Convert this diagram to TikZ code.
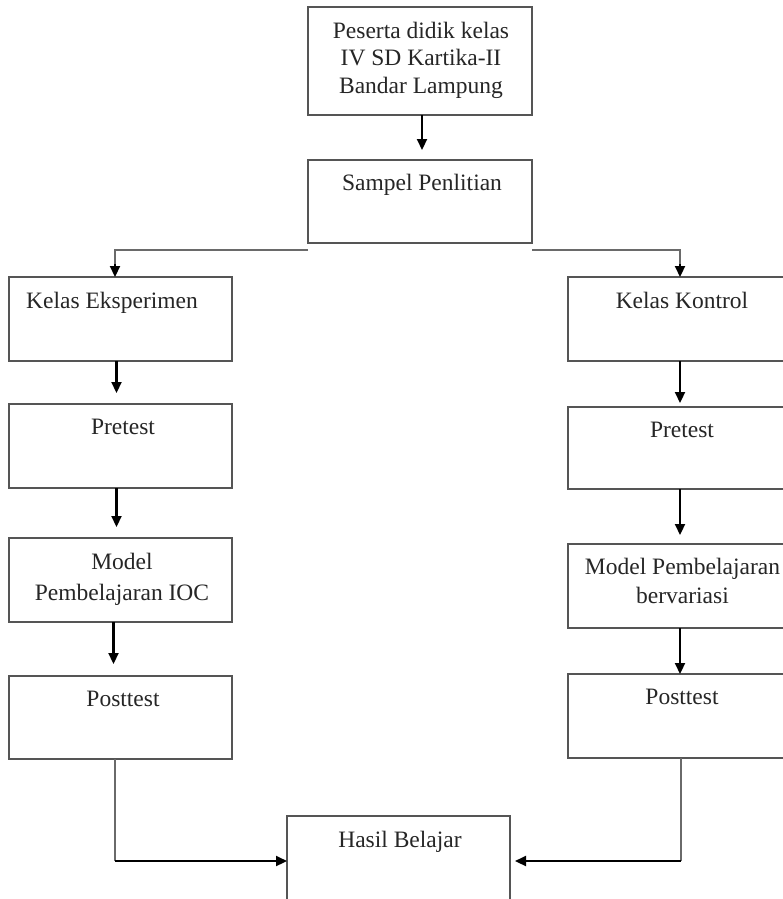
\documentclass[tikz,border=0pt]{standalone}
\usepackage{fontspec}
\setmainfont{Liberation Serif}
\usetikzlibrary{arrows.meta}
\definecolor{boxgray}{HTML}{555555}
\definecolor{linegray}{HTML}{6A6A6A}
\begin{document}
\begin{tikzpicture}[x=1pt,y=-1pt,
  box/.style={draw=boxgray, line width=1.3pt, inner sep=0pt, outer sep=0pt, rectangle},
  lbl/.style={inner sep=0pt, anchor=base, align=center, font=\fontsize{23.5}{27.8}\selectfont, text=black!85},
  arr/.style={draw=black, line width=2.2pt, -{Triangle[length=11pt,width=10pt]}},
  thin/.style={draw=linegray, line width=1.2pt},
  bigarr/.style={draw=black, line width=2.2pt, -{Triangle[length=11pt,width=10pt]}}]
\useasboundingbox[fill=white] (0,0) rectangle (782,899);
% boxes
\node[box, minimum width=224, minimum height=108] (pd) at (420,61) {};
\node[box, minimum width=224, minimum height=83]  (sp) at (420,201.5) {};
\node[box, minimum width=223, minimum height=84]  (ke) at (120.5,319) {};
\node[box, minimum width=223, minimum height=84]  (pl) at (120.5,446) {};
\node[box, minimum width=223, minimum height=84]  (ml) at (120.5,580) {};
\node[box, minimum width=223, minimum height=83]  (ol) at (120.5,717.5) {};
\node[box, minimum width=227, minimum height=84]  (kk) at (681.5,319) {};
\node[box, minimum width=227, minimum height=82]  (pr) at (681.5,448) {};
\node[box, minimum width=227, minimum height=84]  (mr) at (681.5,586) {};
\node[box, minimum width=227, minimum height=84]  (or) at (681.5,716) {};
\node[box, minimum width=223, minimum height=89]  (hb) at (398.5,860.5) {};
% texts
\node[lbl] (pd-t1) at (421,38) {Peserta didik kelas};
\node[lbl] (pd-t2) at (421,65.5) {IV SD Kartika-II};
\node[lbl] (pd-t3) at (421,93) {Bandar Lampung};
\node[lbl] (sp-t) at (422,190) {Sampel Penlitian};
\node[lbl] (ke-t) at (112,308) {Kelas Eksperimen};
\node[lbl] (pl-t) at (123,434) {Pretest};
\node[lbl] (ml-t1) at (122,569) {Model};
\node[lbl] (ml-t2) at (122,600) {Pembelajaran IOC};
\node[lbl] (ol-t) at (123,706) {Posttest};
\node[lbl] (kk-t) at (682,308) {Kelas Kontrol};
\node[lbl] (pr-t) at (682,437) {Pretest};
\node[lbl] (mr-t1) at (682.5,574) {Model Pembelajaran};
\node[lbl] (mr-t2) at (682.5,603) {bervariasi};
\node[lbl] (or-t) at (682,704) {Posttest};
\node[lbl] (hb-t) at (400,847) {Hasil Belajar};
% connectors
\draw[arr, shorten >=10pt] ([xshift=2pt]pd.south) -- ([xshift=2pt]sp.north);
\coordinate (brl) at ([yshift=-7pt]sp.south west);
\coordinate (brr) at ([yshift=-7pt]sp.south east);
\draw[thin] (brl) -| ([xshift=-5.5pt,yshift=12pt]ke.north);
\draw[thin] (brr) -| ([xshift=-1.5pt,yshift=12pt]kk.north);
\draw[arr] ([xshift=-5.5pt,yshift=13pt]ke.north) -- ([xshift=-5.5pt]ke.north);
\draw[arr] ([xshift=-1.5pt,yshift=13pt]kk.north) -- ([xshift=-1.5pt]kk.north);
\draw[arr, shorten >=11pt] ([xshift=-4pt]ke.south) -- ([xshift=-4pt]pl.north);
\draw[arr, shorten >=11pt] ([xshift=-4pt]pl.south) -- ([xshift=-4pt]ml.north);
\draw[arr, shorten >=12pt] ([xshift=-7pt]ml.south) -- ([xshift=-7pt]ol.north);
\draw[arr, shorten >=4pt] ([xshift=-1.5pt]kk.south) -- ([xshift=-1.5pt]pr.north);
\draw[arr, shorten >=9pt] ([xshift=-1.5pt]pr.south) -- ([xshift=-1.5pt]mr.north);
\draw[arr] ([xshift=-1.5pt]mr.south) -- ([xshift=-1.5pt]or.north);
\coordinate (bl) at (115,861);
\coordinate (brc) at (681,861);
\draw[thin] ([xshift=-5.5pt]ol.south) -- (bl);
\draw[thin] ([xshift=-0.5pt]or.south) -- (brc);
\draw[bigarr] (bl) -- (hb.west |- bl);
\draw[bigarr, shorten >=5pt] (brc) -- (hb.east |- brc);
\end{tikzpicture}
\end{document}
